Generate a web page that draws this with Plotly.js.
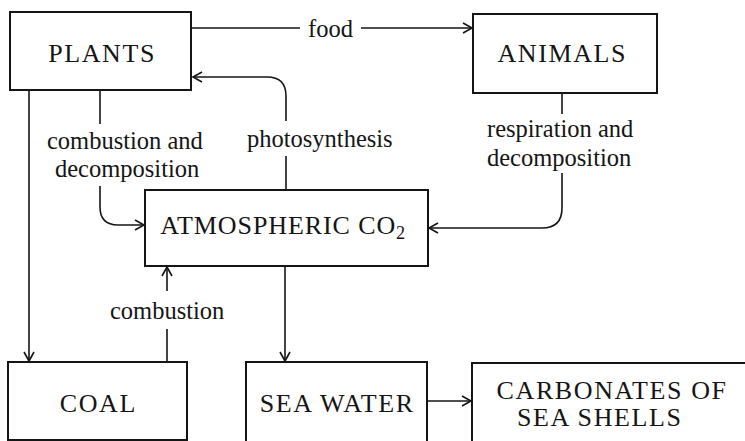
<!DOCTYPE html>
<html>
<head>
<meta charset="utf-8">
<script src="https://cdn.plot.ly/plotly-3.0.1.min.js"></script>
<style>
html,body{margin:0;padding:0;background:#fff;}
#chart{width:745px;height:441px;}
.annotation[data-index="0"] text, .annotation[data-index="1"] text, .annotation[data-index="3"] text,
.annotation[data-index="4"] text, .annotation[data-index="5"] text, .annotation[data-index="6"] text {letter-spacing:1.6px;}
.annotation[data-index="2"] text {letter-spacing:0.9px;}
</style>
</head>
<body>
<div id="chart"></div>
<script>
// ---- diagram content ----
const nodeLabels = ["PLANTS", "ANIMALS", "ATMOSPHERIC CO<sub>2</sub>", "COAL", "SEA WATER", "CARBONATES OF", "SEA SHELLS"];
const flowLabels = ["food", "photosynthesis", "combustion and", "decomposition", "respiration and", "decomposition", "combustion"];

// ---- geometry (pixel space of the 745x441 canvas) ----
const boxX0 = [10, 473, 145, 8, 246, 472];
const boxX1 = [191, 657, 428, 187, 427, 760];
const boxY0 = [12, 14, 190, 362, 362, 363];
const boxY1 = [90, 93, 266, 440, 450, 450];
const nodeTextX = [102, 562, 283, 98, 337, 612, 600];
const nodeTextY = [53, 53, 227, 403, 403, 390, 417];
const flowTextX = [330, 320, 125, 127, 560, 559, 167];
const flowTextY = [28, 138, 140, 168, 128, 157, 310];

const INK = "#151515";
const LW = 1.6;
const shapes = [];
for (let i = 0; i < boxX0.length; i++) {
  shapes.push({type: "rect", xref: "x", yref: "y", x0: boxX0[i], x1: boxX1[i], y0: boxY0[i], y1: boxY1[i],
    line: {color: INK, width: 2}, fillcolor: "rgba(0,0,0,0)"});
}
function path(d) {
  shapes.push({type: "path", xref: "x", yref: "y", path: d, line: {color: INK, width: LW}});
}
function head(x, y, dir) {
  const L = 9, W = 5;
  let d;
  if (dir === "r") d = `M ${x-L},${y-W} L ${x},${y} L ${x-L},${y+W}`;
  if (dir === "l") d = `M ${x+L},${y-W} L ${x},${y} L ${x+L},${y+W}`;
  if (dir === "d") d = `M ${x-W},${y-L} L ${x},${y} L ${x+W},${y-L}`;
  if (dir === "u") d = `M ${x-W},${y+L} L ${x},${y} L ${x+W},${y+L}`;
  path(d);
}
// food
path("M 191,28 L 300,28"); path("M 361,28 L 472,28"); head(472, 28, "r");
// photosynthesis
path("M 286,190 L 286,156"); path("M 286,121 L 286,96 Q 286,77 267,77 L 193,77"); head(193, 77, "l");
// plants combustion/decomposition
path("M 100,90 L 100,124"); path("M 100,186 L 100,207 Q 100,225 118,225 L 144,225"); head(144, 225, "r");
// animals respiration/decomposition
path("M 562,93 L 562,114"); path("M 562,173 L 562,208 Q 562,228 542,228 L 429,228"); head(429, 228, "l");
// plants -> coal
path("M 29,90 L 29,361"); head(29, 361, "d");
// coal combustion -> CO2
path("M 167,362 L 167,329"); path("M 167,291 L 167,267"); head(167, 267, "u");
// CO2 -> sea water
path("M 285,266 L 285,361"); head(285, 361, "d");
// sea water -> carbonates
path("M 427,401 L 471,401"); head(471, 401, "r");

const annotations = [];
const SERIF = "Liberation Serif";
for (let i = 0; i < nodeLabels.length; i++) {
  annotations.push({x: nodeTextX[i], y: nodeTextY[i], xref: "x", yref: "y", text: nodeLabels[i], showarrow: false,
    xanchor: "center", yanchor: "middle", font: {family: SERIF, size: 26, color: INK}});
}
for (let i = 0; i < flowLabels.length; i++) {
  annotations.push({x: flowTextX[i], y: flowTextY[i], xref: "x", yref: "y", text: flowLabels[i], showarrow: false,
    xanchor: "center", yanchor: "middle", font: {family: SERIF, size: 24.5, color: INK}});
}

const layout = {
  width: 745, height: 441,
  margin: {l: 0, r: 0, t: 0, b: 0},
  paper_bgcolor: "#fff", plot_bgcolor: "#fff",
  xaxis: {range: [0, 745], visible: false, fixedrange: true},
  yaxis: {range: [441, 0], visible: false, fixedrange: true},
  showlegend: false,
  shapes: shapes,
  annotations: annotations
};
Plotly.newPlot("chart", [], layout, {staticPlot: true, displayModeBar: false});
</script>
</body>
</html>
